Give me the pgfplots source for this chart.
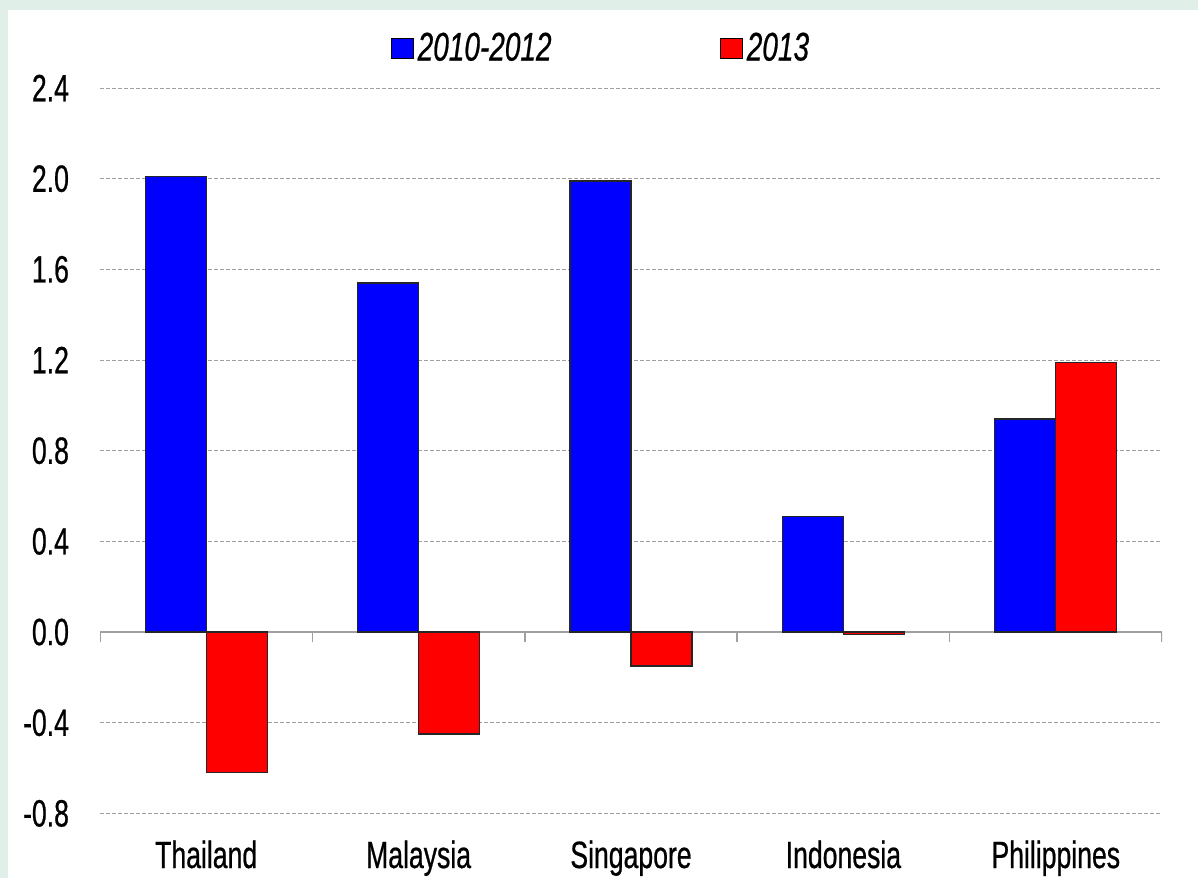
\documentclass[border=0pt]{standalone}
\usepackage{fontspec}
\setmainfont[FakeStretch=0.7,FakeBold=0.6]{Liberation Sans}
\usepackage{pgfplots}
\pgfplotsset{compat=1.18}
\definecolor{bgg}{RGB}{224,240,232}
\definecolor{gridg}{RGB}{160,160,160}
\begin{document}
\begin{tikzpicture}[x=1pt,y=1pt]
\fill[bgg] (0,0) rectangle (599,439);
\fill[white] (4,0) rectangle (599,434);
\begin{axis}[
  at={(50pt,32.3pt)}, anchor=south west,
  scale only axis, width=531pt, height=362.7pt,
  xmin=-0.5, xmax=4.5, ymin=-0.8, ymax=2.4,
  ytick={-0.8,-0.4,0,0.4,0.8,1.2,1.6,2.0,2.4},
  yticklabel style={/pgf/number format/fixed,/pgf/number format/fixed zerofill,/pgf/number format/precision=1, xshift=-12pt},
  /pgf/number format/assume math mode=true,
  axis line style={draw=none},
  major tick length=0pt,
  ymajorgrids,
  grid style={gridg, dash pattern=on 2pt off 1pt, line width=0.5pt},
  xtick={0,1,2,3,4},
  xticklabels={Thailand,Malaysia,Singapore,Indonesia,Philippines},
  tick label style={font=\fontsize{19}{22}\selectfont},
  xticklabel style={yshift=-10pt},
  ybar=0pt, bar width=0.287,
  legend columns=2,
  legend style={draw=none, fill=none, at={(0.4725,1.055)}, anchor=center,
    font=\fontsize{20}{23}\selectfont\itshape,
    /tikz/every even column/.append style={column sep=82pt}},
  legend image code/.code={\draw[#1,draw=black,line width=0.6pt] (0pt,-5pt) rectangle (11pt,5pt);},
]
\draw[gridg, line width=0.8pt] (axis cs:-0.5,0) -- (axis cs:4.5,0);
\pgfplotsinvokeforeach{-0.5,0.5,1.5,2.5,3.5,4.5}{\draw[gridg, line width=0.8pt] (axis cs:#1,0) -- ([yshift=-5pt]axis cs:#1,0);}
\addplot[fill=blue, draw=black!85, line width=0.6pt] coordinates {(0,2.01) (1,1.54) (2,1.99) (3,0.51) (4,0.94)};
\addplot[fill=red, draw=black!85, line width=0.6pt] coordinates {(0,-0.62) (1,-0.45) (2,-0.15) (3,-0.01) (4,1.19)};
\legend{2010-2012,2013}
\end{axis}
\pgfresetboundingbox
\path (0,0) rectangle (599,439);
\end{tikzpicture}
\end{document}
